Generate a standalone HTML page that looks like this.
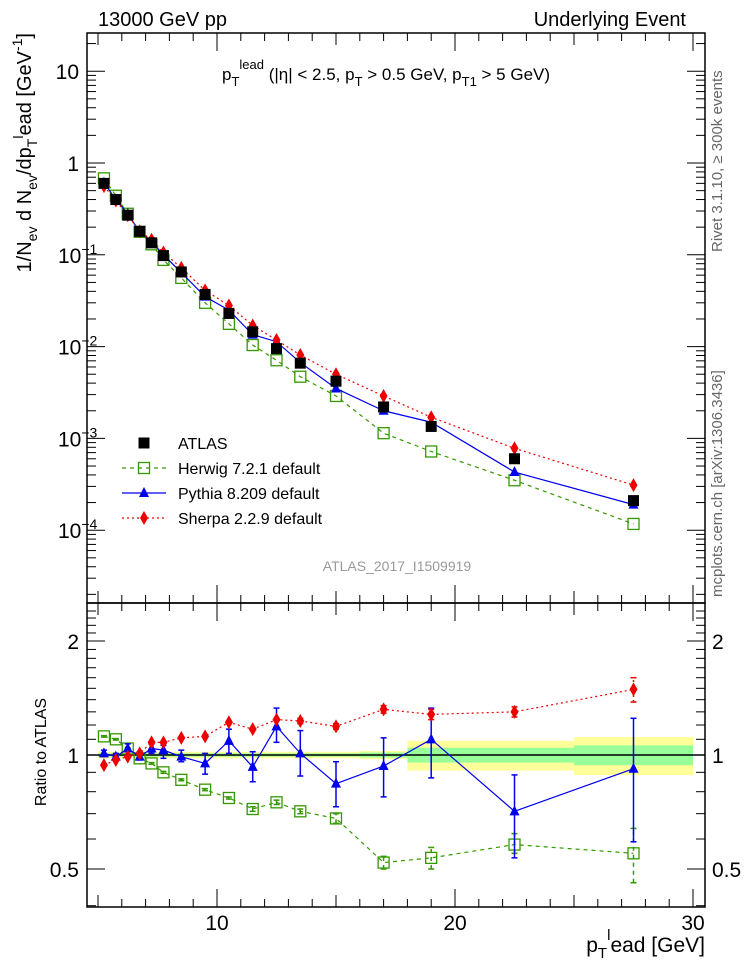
<!DOCTYPE html>
<html><head><meta charset="utf-8"><style>
body{margin:0;background:#fff;}
svg{display:block;font-family:"Liberation Sans",sans-serif;}
</style></head><body>
<svg id="c" width="746" height="972" xmlns="http://www.w3.org/2000/svg"></svg>
<script>
const xs=[5.25,5.75,6.25,6.75,7.25,7.75,8.5,9.5,10.5,11.5,12.5,13.5,15,17,19,22.5,27.5];
const atlas=[0.60,0.40,0.27,0.18,0.135,0.098,0.065,0.037,0.023,0.0145,0.0095,0.0066,0.0042,0.0022,0.00135,0.0006,0.00021];
const herwig=[0.68,0.44,0.28,0.178,0.13,0.088,0.056,0.030,0.0177,0.0104,0.0071,0.0047,0.0029,0.00114,0.00072,0.00035,0.000117];
const pythia=[0.61,0.40,0.28,0.178,0.14,0.10,0.064,0.035,0.025,0.0135,0.0113,0.0067,0.0035,0.0020,0.0015,0.00043,0.00019];
const sherpa=[0.56,0.39,0.27,0.18,0.146,0.106,0.072,0.041,0.028,0.017,0.0118,0.0081,0.005,0.0029,0.0017,0.00078,0.00031];
const rHerwig=[1.12,1.10,1.04,0.98,0.95,0.90,0.86,0.81,0.77,0.72,0.75,0.71,0.68,0.52,0.535,0.58,0.55];
const rPythia=[1.01,0.99,1.04,0.99,1.04,1.03,0.99,0.95,1.09,0.93,1.19,1.01,0.84,0.935,1.10,0.71,0.92];
const rPythiaLo=[0.99,0.97,1.00,0.97,1.01,0.98,0.96,0.89,1.01,0.85,1.08,0.88,0.73,0.775,0.87,0.535,0.59];
const rPythiaHi=[1.03,1.01,1.07,1.02,1.07,1.06,1.03,1.01,1.17,1.02,1.33,1.16,0.96,1.11,1.33,0.886,1.25];
const rSherpa=[0.94,0.97,0.99,1.01,1.08,1.08,1.11,1.12,1.22,1.17,1.24,1.23,1.19,1.32,1.28,1.30,1.49];
const rSherpaLo=[0.935,0.965,0.985,1.005,1.075,1.075,1.105,1.115,1.215,1.165,1.23,1.21,1.17,1.29,1.24,1.26,1.38];
const rSherpaHi=[0.945,0.975,0.995,1.015,1.085,1.085,1.115,1.125,1.225,1.175,1.25,1.25,1.21,1.35,1.32,1.34,1.60];
const rHerwigLo=[1.115,1.095,1.035,0.975,0.945,0.895,0.855,0.805,0.765,0.71,0.74,0.70,0.66,0.50,0.50,0.55,0.46];
const rHerwigHi=[1.125,1.105,1.045,0.985,0.955,0.905,0.865,0.815,0.775,0.73,0.76,0.72,0.70,0.54,0.57,0.62,0.64];
const binEdges=[5,5.5,6,6.5,7,7.5,8,9,10,11,12,13,14,16,18,20,25,30];
const bandYellow=[0.02,0.02,0.02,0.02,0.02,0.02,0.02,0.02,0.02,0.02,0.02,0.02,0.02,0.025,0.09,0.09,0.115];
const bandGreen=[0.01,0.01,0.01,0.01,0.01,0.01,0.01,0.01,0.01,0.01,0.01,0.01,0.01,0.015,0.045,0.045,0.06];

const L=87,R=705,T=33,B=603,RT=603,RB=907;
const X=v=>217+(v-10)*23.8;
const Y=v=>163-Math.log10(v)*91.8;
const RY=v=>755-Math.log2(v)*114;
const svg=document.getElementById('c');
const NS='http://www.w3.org/2000/svg';
function el(tag,attrs,parent){const e=document.createElementNS(NS,tag);for(const k in attrs)e.setAttribute(k,attrs[k]);(parent||svg).appendChild(e);return e;}
function txt(s,x,y,size,anchor,extra){const e=el('text',Object.assign({x:x,y:y,'font-size':size,'text-anchor':anchor||'start'},extra||{}));e.innerHTML=s;return e;}

const defs=el('defs',{});
const c1=el('clipPath',{id:'cm'},defs);el('rect',{x:L,y:T,width:R-L,height:B-T},c1);
const c2=el('clipPath',{id:'cr'},defs);el('rect',{x:L,y:RT,width:R-L,height:RB-RT},c2);

const gb=el('g',{'clip-path':'url(#cr)'});


for(let i=0;i<bandYellow.length;i++){
  const x0=X(binEdges[i]),x1=X(binEdges[i+1]);
  el('rect',{x:x0,y:RY(1+bandYellow[i]),width:x1-x0,height:RY(1-bandYellow[i])-RY(1+bandYellow[i]),fill:'#ffff99'},gb);
}
for(let i=0;i<bandGreen.length;i++){
  const x0=X(binEdges[i]),x1=X(binEdges[i+1]);
  el('rect',{x:x0,y:RY(1+bandGreen[i]),width:x1-x0,height:RY(1-bandGreen[i])-RY(1+bandGreen[i]),fill:'#99ff99'},gb);
}
el('line',{x1:L,x2:R,y1:RY(1),y2:RY(1),stroke:'#000','stroke-width':1.5},gb);

el('rect',{x:L,y:T,width:R-L,height:B-T,fill:'none',stroke:'#000','stroke-width':1.5});
el('rect',{x:L,y:RT,width:R-L,height:RB-RT,fill:'none',stroke:'#000','stroke-width':1.5});

for(let v=5;v<=30;v++){
  const x=X(v);const len=(v%10==0)?18:(v%5==0?12:8);
  [[T,1],[B,-1],[RT,1],[RB,-1]].forEach(([y,d])=>el('line',{x1:x,x2:x,y1:y,y2:y+d*len,stroke:'#000'}));
}
[10,20,30].forEach(v=>{const t=txt(v,X(v),930,21,'middle');});
for(let d=-5;d<=1;d++){
  for(let m=1;m<10;m++){
    const v=m*Math.pow(10,d);const y=Y(v);
    if(y<T||y>B)continue;
    const len=m==1?18:9;
    el('line',{x1:L,x2:L+len,y1:y,y2:y,stroke:'#000'});
    el('line',{x1:R,x2:R-len,y1:y,y2:y,stroke:'#000'});
  }
}
const ylab=[[10,'10'],[1,'1'],[0.1,'10<tspan dy="-9" font-size="14">−1</tspan>'],[0.01,'10<tspan dy="-9" font-size="14">−2</tspan>'],[0.001,'10<tspan dy="-9" font-size="14">−3</tspan>'],[0.0001,'10<tspan dy="-9" font-size="14">−4</tspan>']];
ylab.forEach(([v,s])=>{const t=txt(s,v>=1?79:58,Y(v)+8,21,v>=1?'end':'start');});
const rmaj=[0.5,1,2];
for(let v=0.4;v<=2.5;v+=0.1){
  const y=RY(v);if(y<RT||y>RB)continue;
  const major=rmaj.some(m=>Math.abs(m-v)<1e-6);const len=major?18:9;
  el('line',{x1:L,x2:L+len,y1:y,y2:y,stroke:'#000'});
  el('line',{x1:R,x2:R-len,y1:y,y2:y,stroke:'#000'});
}
[[2,'2'],[1,'1'],[0.5,'0.5']].forEach(([v,s])=>{
  const a=txt(s,79,RY(v)+8,21,'end');
  const b=txt(s,712,RY(v)+8,21,'start');
});

function marker(g,type,x,y){
  if(type=='sq')el('rect',{x:x-5.5,y:y-5.5,width:11,height:11,fill:'#000'},g);
  if(type=='osq')el('rect',{x:x-5.5,y:y-5.5,width:11,height:11,fill:'#fff','fill-opacity':0,stroke:'#339900','stroke-width':1.3},g);
  if(type=='tri')el('polygon',{points:`${x},${y-6} ${x-5},${y+4} ${x+5},${y+4}`,fill:'#0000ee'},g);
  if(type=='dia')el('polygon',{points:`${x},${y-7} ${x+4},${y} ${x},${y+7} ${x-4},${y}`,fill:'#ee0000'},g);
}
function series(name,vals,fy,color,dash,type,clip,lo,hi){
  const g=el('g',{'clip-path':clip});
  
  
  if(color){
    const pts=xs.map((x,i)=>X(x)+','+fy(vals[i])).join(' ');
    el('polyline',{points:pts,fill:'none',stroke:color,'stroke-width':1.2,'stroke-dasharray':dash},g);
  }
  xs.forEach((x,i)=>{
    if(lo){el('line',{x1:X(x),x2:X(x),y1:fy(lo[i]),y2:fy(hi[i]),stroke:color||'#000','stroke-width':1.5,'stroke-dasharray':dash},g);
      [lo[i],hi[i]].forEach(v=>el('line',{x1:X(x)-3,x2:X(x)+3,y1:fy(v),y2:fy(v),stroke:color||'#000','stroke-width':1.5},g));}
    marker(g,type,X(x),fy(vals[i]));
  });
}
series('herwig-main',herwig,Y,'#339900','4,4','osq','url(#cm)');
series('pythia-main',pythia,Y,'#0000ee',null,'tri','url(#cm)');
series('sherpa-main',sherpa,Y,'#ee0000','2,3','dia','url(#cm)');
series('atlas-data',atlas,Y,null,null,'sq','url(#cm)');
series('herwig-ratio',rHerwig,RY,'#339900','4,4','osq','url(#cr)',rHerwigLo,rHerwigHi);
series('pythia-ratio',rPythia,RY,'#0000ee',null,'tri','url(#cr)',rPythiaLo,rPythiaHi);
series('sherpa-ratio',rSherpa,RY,'#ee0000','2,3','dia','url(#cr)',rSherpaLo,rSherpaHi);

const leg=[['ATLAS',null,null,'sq'],['Herwig 7.2.1 default','#339900','4,4','osq'],['Pythia 8.209 default','#0000ee',null,'tri'],['Sherpa 2.2.9 default','#ee0000','2,3','dia']];
leg.forEach((l,i)=>{
  const g=el('g',{});
  
  
  const y=443+i*25;
  if(l[1])el('line',{x1:122,x2:166,y1:y,y2:y,stroke:l[1],'stroke-width':1.2,'stroke-dasharray':l[2]||''},g);
  marker(g,l[3],144,y);
  const t=txt(l[0],178,y+6,16,'start');g.appendChild(t);
});

let t;
t=txt('13000 GeV pp',98,26,20);
t=txt('Underlying Event',686,26,20,'end');
t=txt('p<tspan dy="6" font-size="13">T</tspan><tspan dy="-17" font-size="13">lead</tspan><tspan dy="11"> (|η| &lt; 2.5, p</tspan><tspan dy="6" font-size="13">T</tspan><tspan dy="-6"> &gt; 0.5 GeV, p</tspan><tspan dy="6" font-size="13">T1</tspan><tspan dy="-6"> &gt; 5 GeV)</tspan>',222,80,17);

t=txt('ATLAS_2017_I1509919',397,571,14,'middle',{fill:'#999'});
t=txt('p<tspan dy="6" font-size="15">T</tspan><tspan dy="-18" font-size="15">l</tspan><tspan dy="12">ead [GeV]</tspan>',705,952,21,'end');
t=txt('1/N<tspan dy="6" font-size="14">ev</tspan><tspan dy="-6"> d N</tspan><tspan dy="6" font-size="14">ev</tspan><tspan dy="-6">/dp</tspan><tspan dy="6" font-size="14">T</tspan><tspan dy="-14" font-size="14">l</tspan><tspan dy="8">ead [GeV</tspan><tspan dy="-9" font-size="14">-1</tspan><tspan dy="9">]</tspan>',0,0,20,'end',{transform:'translate(31,33) rotate(-90)'});

t=txt('Ratio to ATLAS',0,0,16,'middle',{transform:'translate(46,752) rotate(-90)'});
t=txt('Rivet 3.1.10, ≥ 300k events',0,0,15,'start',{transform:'translate(722,252) rotate(-90)',fill:'#666'});
t=txt('mcplots.cern.ch [arXiv:1306.3436]',0,0,15,'start',{transform:'translate(722,597) rotate(-90)',fill:'#666'});
</script>
</body></html>
